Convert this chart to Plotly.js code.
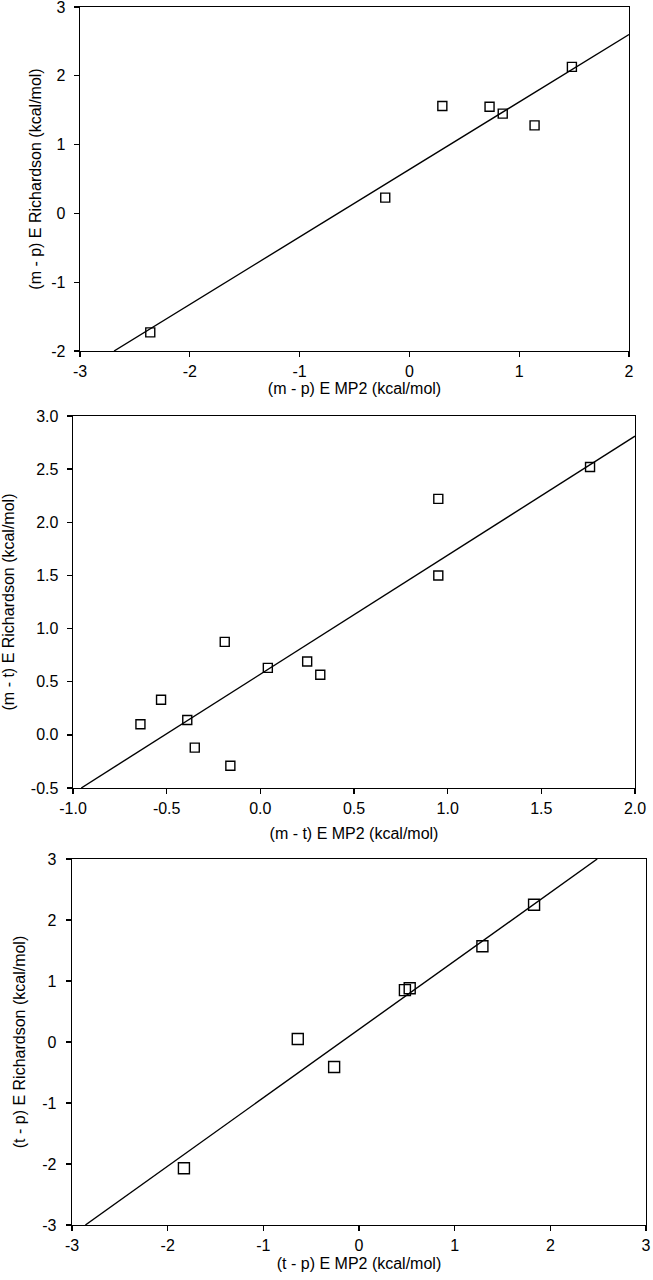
<!DOCTYPE html>
<html>
<head>
<meta charset="utf-8">
<script src="https://cdn.plot.ly/plotly-3.0.1.min.js"></script>
<style>
  html, body { margin: 0; padding: 0; background: #fff; }
  #chart { width: 653px; height: 1280px; }
</style>
</head>
<body>
<div id="chart"></div>
<script>
// Panel 1: (m - p)
const mpX = [-2.36, -0.22, 0.30, 0.73, 0.85, 1.14, 1.48];
const mpY = [-1.73, 0.23, 1.56, 1.55, 1.45, 1.28, 2.13];
const mpFitX = [-2.69, 2.0];
const mpFitY = [-2.0, 2.60];

// Panel 2: (m - t)
const mtX = [-0.64, -0.53, -0.39, -0.35, -0.19, -0.16, 0.04, 0.25, 0.32, 0.95, 0.95, 1.76];
const mtY = [0.10, 0.33, 0.14, -0.12, 0.875, -0.29, 0.63, 0.69, 0.565, 2.22, 1.50, 2.52];
const mtFitX = [-0.956, 2.0];
const mtFitY = [-0.5, 2.81];

// Panel 3: (t - p)
const tpX = [-1.83, -0.64, -0.26, 0.48, 0.53, 1.29, 1.83];
const tpY = [-2.07, 0.05, -0.41, 0.85, 0.88, 1.57, 2.25];
const tpFitX = [-2.86, 2.49];
const tpFitY = [-3.0, 3.0];

// Tick values and labels
const p1XTicks = [-3, -2, -1, 0, 1, 2];
const p1XLabels = ['-3', '-2', '-1', '0', '1', '2'];
const p1YTicks = [-2, -1, 0, 1, 2, 3];
const p1YLabels = ['-2', '-1', '0', '1', '2', '3'];
const p2XTicks = [-1.0, -0.5, 0.0, 0.5, 1.0, 1.5, 2.0];
const p2XLabels = ['-1.0', '-0.5', '0.0', '0.5', '1.0', '1.5', '2.0'];
const p2YTicks = [-0.5, 0.0, 0.5, 1.0, 1.5, 2.0, 2.5, 3.0];
const p2YLabels = ['-0.5', '0.0', '0.5', '1.0', '1.5', '2.0', '2.5', '3.0'];
const p3XTicks = [-3, -2, -1, 0, 1, 2, 3];
const p3XLabels = ['-3', '-2', '-1', '0', '1', '2', '3'];
const p3YTicks = [-3, -2, -1, 0, 1, 2, 3];
const p3YLabels = ['-3', '-2', '-1', '0', '1', '2', '3'];

const xTitles = ['(m - p) E MP2 (kcal/mol)', '(m - t) E MP2 (kcal/mol)', '(t - p) E MP2 (kcal/mol)'];
const yTitles = ['(m - p) E Richardson (kcal/mol)', '(m - t) E Richardson (kcal/mol)', '(t - p) E Richardson (kcal/mol)'];

const W = 653, H = 1280;
const FONT = 'Liberation Sans, Arial, sans-serif';

function pts(x, y, xa, ya, size) {
  return { x: x, y: y, xaxis: xa, yaxis: ya, type: 'scatter', mode: 'markers',
    marker: { symbol: 'square-open', size: size, color: '#000', line: { width: 1.4, color: '#000' } },
    showlegend: false, hoverinfo: 'x+y' };
}
function fit(x, y, xa, ya) {
  return { x: x, y: y, xaxis: xa, yaxis: ya, type: 'scatter', mode: 'lines',
    line: { color: '#000', width: 1.4 }, showlegend: false, hoverinfo: 'skip' };
}

const data = [
  fit(mpFitX, mpFitY, 'x', 'y'), pts(mpX, mpY, 'x', 'y', 9),
  fit(mtFitX, mtFitY, 'x2', 'y2'), pts(mtX, mtY, 'x2', 'y2', 9),
  fit(tpFitX, tpFitY, 'x3', 'y3'), pts(tpX, tpY, 'x3', 'y3', 11)
];

function axis(domain, range, tv, tt, title, anchor, standoff, labelGap) {
  return {
    domain: domain, range: range, tickmode: 'array', tickvals: tv, ticktext: tt,
    showgrid: false, zeroline: false, showline: true, mirror: true,
    linecolor: '#000', linewidth: 1.4, ticks: 'outside', ticklen: 5, tickwidth: 1.3,
    tickcolor: '#000', tickfont: { family: FONT, size: 16, color: '#000' },
    ticklabeloverflow: 'allow', ticklabelstandoff: labelGap,
    title: { text: title, font: { family: FONT, size: 16, color: '#000' }, standoff: standoff },
    anchor: anchor, automargin: false, fixedrange: true
  };
}

const layout = {
  width: W, height: H,
  margin: { l: 0, r: 0, t: 0, b: 0 },
  paper_bgcolor: '#fff', plot_bgcolor: 'rgba(0,0,0,0)',
  showlegend: false,
  xaxis:  axis([80 / W, 629 / W], [-3, 2], p1XTicks, p1XLabels, xTitles[0], 'y', 4, 0),
  yaxis:  axis([1 - 351 / H, 1 - 7 / H], [-2, 3], p1YTicks, p1YLabels, yTitles[0], 'x', 5, 5),
  xaxis2: axis([73 / W, 635 / W], [-1, 2], p2XTicks, p2XLabels, xTitles[1], 'y2', 12, 0),
  yaxis2: axis([1 - 788 / H, 1 - 416 / H], [-0.5, 3], p2YTicks, p2YLabels, yTitles[1], 'x2', 13, 5),
  xaxis3: axis([72 / W, 646 / W], [-3, 3], p3XTicks, p3XLabels, xTitles[2], 'y3', 5, 0),
  yaxis3: axis([1 - 1225 / H, 1 - 859 / H], [-3, 3], p3YTicks, p3YLabels, yTitles[2], 'x3', 12, 6)
};

Plotly.newPlot('chart', data, layout, { displayModeBar: false, staticPlot: true });
</script>
</body>
</html>
